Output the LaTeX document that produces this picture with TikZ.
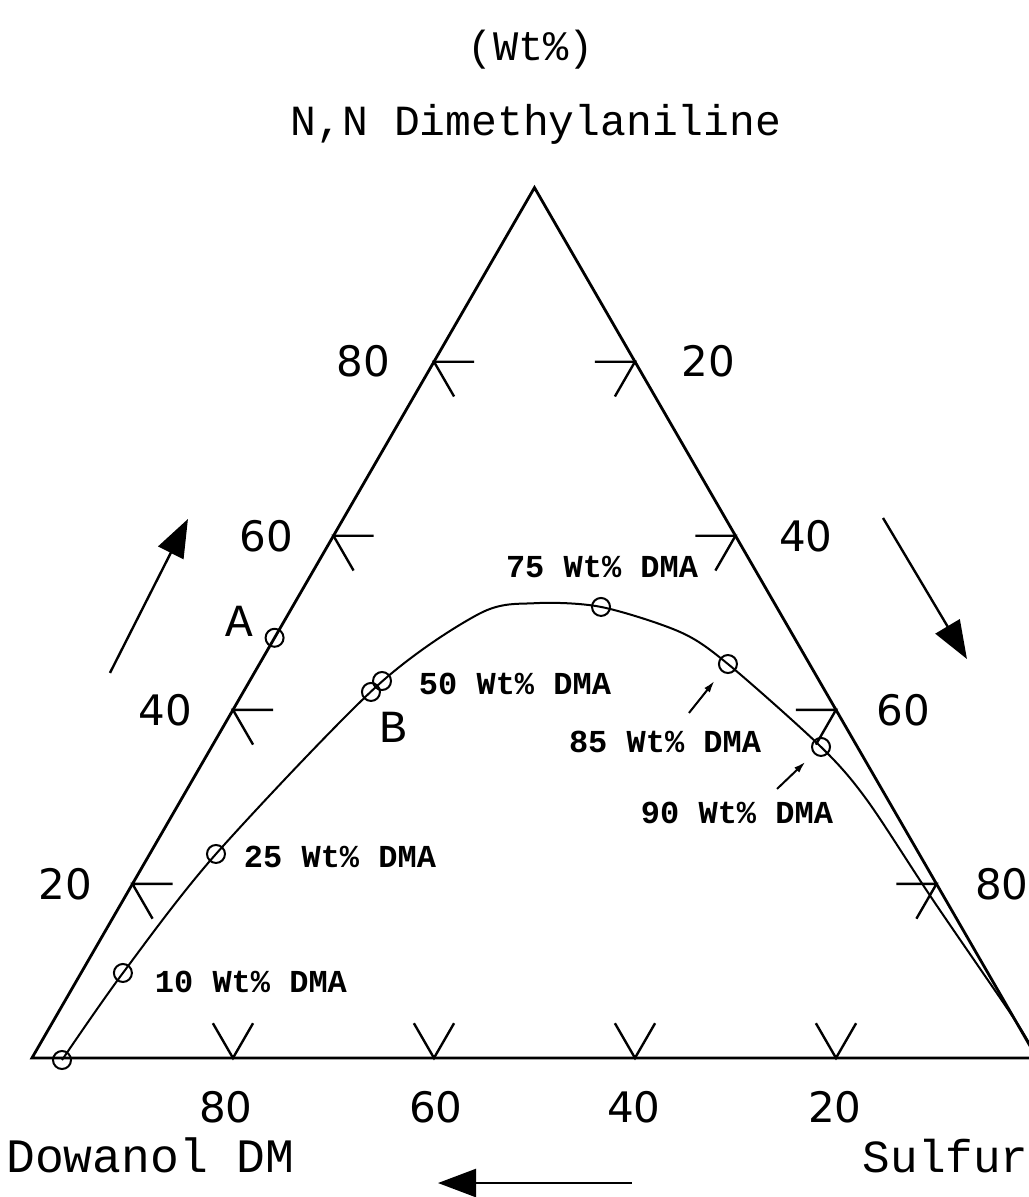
\documentclass[tikz,border=0pt]{standalone}
\usepackage{fontspec}
\usetikzlibrary{arrows.meta}
\newfontfamily\typefont{Liberation Mono}
\newfontfamily\numfont{DejaVu Sans}

\begin{document}
\begin{tikzpicture}[%
      x=50.25pt, y=50.25pt,
      edge/.style={line width=1.4pt},
      tickmark/.style={line width=1.2pt},
      binodal/.style={line width=1pt},
      datapt/.style={circle, draw, line width=1pt, inner sep=0pt, minimum size=9pt},
      axisnum/.style={inner sep=0pt, font=\numfont\fontsize{21}{25}\selectfont},
      cornerlbl/.style={inner sep=0pt, anchor=base, font=\typefont\fontsize{21.5}{26}\selectfont},
      wtlbl/.style={inner sep=0pt, font=\typefont\bfseries\fontsize{16}{19}\selectfont},
      ptlbl/.style={inner sep=0pt, font=\typefont\fontsize{23}{27}\selectfont},
      bigarrow/.style={line width=1.2pt, -{Triangle[length=19pt,width=14pt]}},
      pointer/.style={line width=1pt, -{Latex[length=6pt,width=3.5pt]}, shorten >=5.7pt},
      ]
      \useasboundingbox (-0.318,-1.383) rectangle (9.920,10.527);
      \clip (-0.318,-1.383) rectangle (9.920,10.527);

      % triangle
      \coordinate (L) at (0,0);
      \coordinate (R) at (10,0);
      \coordinate (T) at (5,8.660);
      \draw [edge, line join=miter] (L) -- (T) -- (R) -- cycle;

      % ticks, DMA side
      \draw [tickmark] (1.4,1.732) -- (1,1.732) -- (1.2,1.386);
      \draw [tickmark] (2.4,3.464) -- (2,3.464) -- (2.2,3.118);
      \draw [tickmark] (3.4,5.196) -- (3,5.196) -- (3.2,4.850);
      \draw [tickmark] (4.4,6.928) -- (4,6.928) -- (4.2,6.582);
      % ticks, sulfur side
      \draw [tickmark] (5.6,6.928) -- (6,6.928) -- (5.8,6.582);
      \draw [tickmark] (6.6,5.196) -- (7,5.196) -- (6.8,4.850);
      \draw [tickmark] (7.6,3.464) -- (8,3.464) -- (7.8,3.118);
      \draw [tickmark] (8.6,1.732) -- (9,1.732) -- (8.8,1.386);
      % ticks, base
      \draw [tickmark] (1.8,0.346) -- (2,0) -- (2.2,0.346);
      \draw [tickmark] (3.8,0.346) -- (4,0) -- (4.2,0.346);
      \draw [tickmark] (5.8,0.346) -- (6,0) -- (6.2,0.346);
      \draw [tickmark] (7.8,0.346) -- (8,0) -- (8.2,0.346);

      \node [axisnum] (l20) at (0.33,1.732) {20};
      \node [axisnum] (l40) at (1.33,3.464) {40};
      \node [axisnum] (l60) at (2.33,5.196) {60};
      \node [axisnum] (l80) at (3.30,6.928) {80};
      \node [axisnum] (r20) at (6.73,6.928) {20};
      \node [axisnum] (r40) at (7.70,5.196) {40};
      \node [axisnum] (r60) at (8.67,3.464) {60};
      \node [axisnum] (r80) at (9.65,1.732) {80};
      \node [axisnum] (b80) at (1.93,-0.49) {80};
      \node [axisnum] (b60) at (4.02,-0.49) {60};
      \node [axisnum] (b40) at (5.99,-0.49) {40};
      \node [axisnum] (b20) at (7.99,-0.49) {20};

      % component names
      \node [cornerlbl, font=\typefont\fontsize{21}{25}\selectfont] (units) at (4.965,9.920) {(Wt\%)};
      \node [cornerlbl] (dma) at (5.015,9.174) {N,N Dimethylaniline};
      \node [cornerlbl, anchor=base west, font=\typefont\fontsize{24}{28}\selectfont] (dowanol) at (-0.26,-1.144) {Dowanol DM};
      \node [cornerlbl, anchor=base east, font=\typefont\fontsize{23}{28}\selectfont] (sulfur) at (9.92,-1.144) {Sulfur};

      % binodal curve
      \draw [binodal] plot [smooth] coordinates {(0.299,-0.020) (0.905,0.846) (1.831,2.030)
            (3.428,3.697) (4.450,4.420) (5.000,4.525) (5.662,4.488)
            (6.448,4.239) (6.925,3.920) (7.851,3.095) (8.308,2.567) (8.965,1.572)
            (9.781,0.378) (10,0)};

      \node [datapt] (c0) at (0.299,-0.020) {};
      \node [datapt] (c10) at (0.905,0.846) {};
      \node [datapt] (c25) at (1.831,2.030) {};
      \node [datapt] (cB) at (3.373,3.642) {};
      \node [datapt] (c50) at (3.483,3.751) {};
      \node [datapt] (c75) at (5.662,4.488) {};
      \node [datapt] (c85) at (6.925,3.920) {};
      \node [datapt] (c90) at (7.851,3.095) {};
      \node [datapt] (cA) at (2.414,4.181) {};

      \node [ptlbl] (lblA) at (2.060,4.348) {A};
      \node [ptlbl] (lblB) at (3.592,3.294) {B};

      \node [wtlbl] (w10) at (2.179,0.756) {10 Wt\% DMA};
      \node [wtlbl] (w25) at (3.065,2.000) {25 Wt\% DMA};
      \node [wtlbl] (w50) at (4.806,3.721) {50 Wt\% DMA};
      \node [wtlbl] (w75) at (5.672,4.886) {75 Wt\% DMA};
      \node [wtlbl] (w85) at (6.299,3.144) {85 Wt\% DMA};
      \node [wtlbl] (w90) at (7.015,2.438) {90 Wt\% DMA};

      \coordinate (a85) at (6.537,3.433);
      \coordinate (a90) at (7.413,2.677);
      \draw [pointer] (a85) -- (c85);
      \draw [pointer] (a90) -- (c90);

      % reading direction arrows
      \coordinate (upS) at (0.776,3.831);
      \coordinate (upE) at (1.552,5.363);
      \coordinate (dnS) at (8.468,5.373);
      \coordinate (dnE) at (9.303,3.970);
      \coordinate (lfS) at (5.970,-1.244);
      \coordinate (lfE) at (4.040,-1.244);
      \draw [bigarrow] (upS) -- (upE);
      \draw [bigarrow] (dnS) -- (dnE);
      \draw [bigarrow] (lfS) -- (lfE);
\end{tikzpicture}
\end{document}
